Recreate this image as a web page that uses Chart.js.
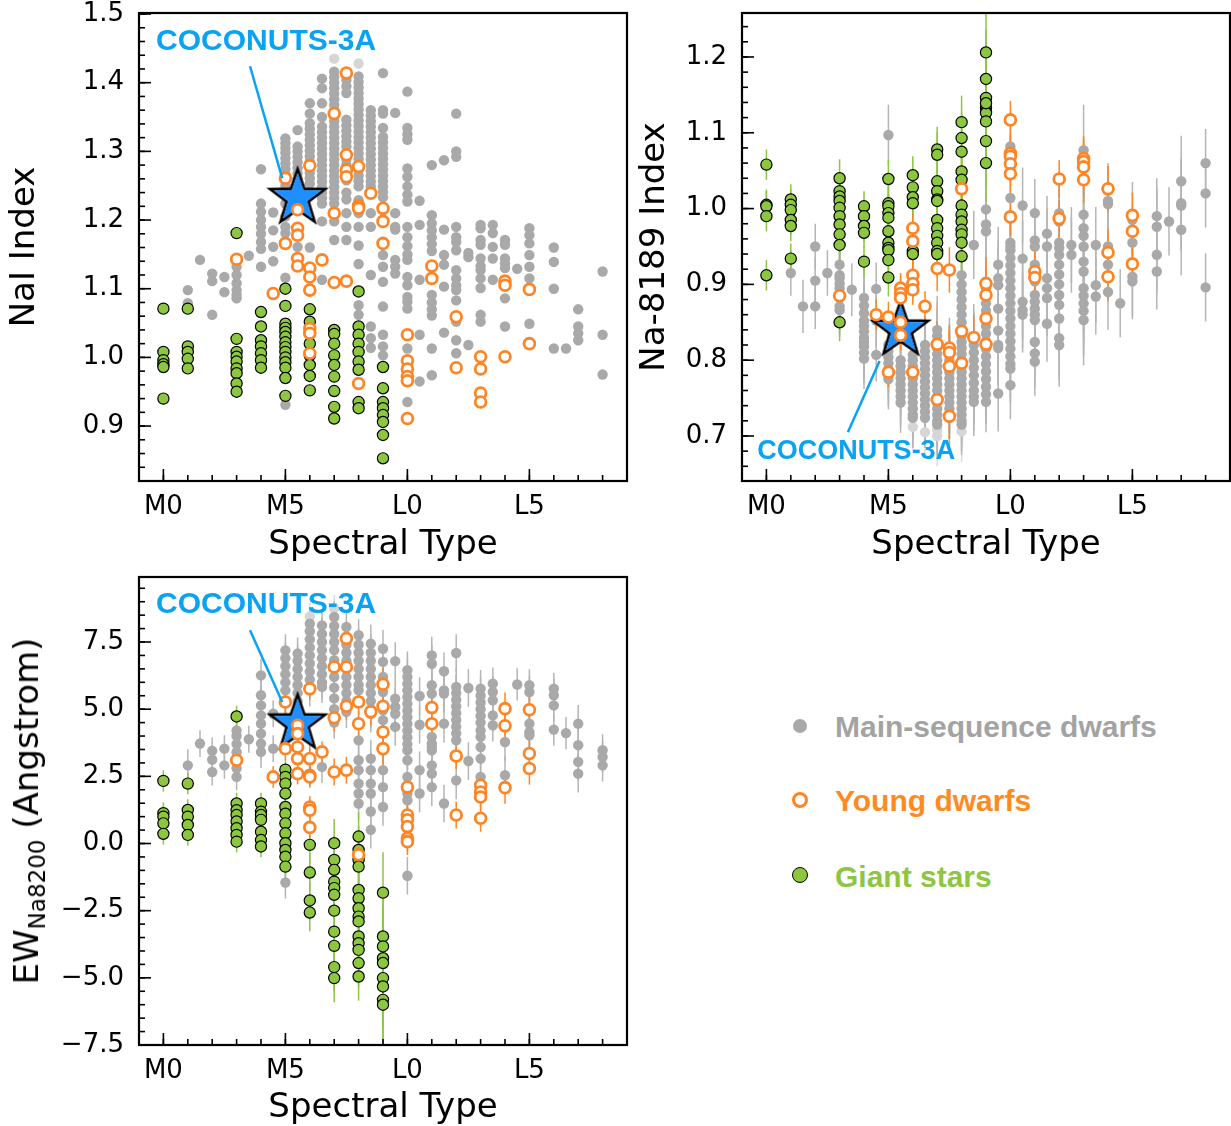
<!DOCTYPE html>
<html>
<head>
<meta charset="utf-8">
<script src="https://cdn.jsdelivr.net/npm/chart.js@4.4.0/dist/chart.umd.min.js"></script>
<style>
  body { margin: 0; background: #fff; }
  #page { position: relative; width: 1231px; height: 1126px; overflow: hidden; font-family: "DejaVu Sans", sans-serif; }
  canvas { position: absolute; }
  .ytitle { position: absolute; transform: translate(-50%, -50%) rotate(-90deg); white-space: nowrap;
            font-size: 34px; line-height: 1; color: #000; }
  .ytitle sub { font-size: 23px; vertical-align: -7px; line-height: 0; }
  .mk { position: absolute; border-radius: 50%; box-sizing: border-box; }
  .lg { position: absolute; left: 835px; font: bold 30px "Liberation Sans", Arial, sans-serif; line-height: 30px; white-space: nowrap; }
</style>
</head>
<body>
<div id="page">
  <canvas id="naiChart" width="630" height="570" style="left:0;top:0"></canvas>
  <canvas id="na8189Chart" width="601" height="570" style="left:630px;top:0"></canvas>
  <canvas id="ewChart" width="630" height="561" style="left:0;top:565px"></canvas>
  <div class="ytitle" style="left:26px;top:811px">EW<sub>Na8200</sub> (Angstrom)</div>

  <div class="mk" style="left:793px;top:719px;width:14px;height:14px;background:#a9a9a9"></div>
  <div class="lg" style="top:712px;color:#a3a3a3">Main-sequence dwarfs</div>
  <div class="mk" style="left:792px;top:792px;width:16px;height:16px;border:3px solid #ff8424;background:#fff"></div>
  <div class="lg" style="top:786px;color:#ff8a1e">Young dwarfs</div>
  <div class="mk" style="left:792px;top:867px;width:16px;height:16px;border:1.5px solid #000;background:#8dc63f"></div>
  <div class="lg" style="top:862px;color:#8dc63f">Giant stars</div>
</div>

<script>
// spectral type axis: 0 = M0, 10 = L0
const sptTicks = [0, 5, 10, 15];
const sptLabels = ['M0', 'M5', 'L0', 'L5'];

// each entry: [spectral type, error, [index values]]
const dwarfNaI = [
  [1, 0, [1.098, 1.079]],
  [1.5, 0, [1.142]],
  [2, 0, [1.122, 1.111, 1.062]],
  [2.5, 0, [1.117, 1.095]],
  [3, 0, [1.132, 1.12, 1.108, 1.098, 1.091, 1.086]],
  [3.5, 0, [1.148]],
  [4, 0, [1.274, 1.224, 1.212, 1.2, 1.19, 1.18, 1.168, 1.158, 1.132]],
  [4.5, 0, [1.211, 1.185, 1.161, 1.14]],
  [5, 0, [1.319, 1.312, 1.305, 1.298, 1.29, 1.282, 1.274, 1.266, 1.258, 1.25, 1.224, 1.205, 1.19, 1.181, 1.116, 0.931]],
  [5.5, 0, [1.331, 1.307, 1.3, 1.292, 1.284, 1.276, 1.268, 1.26, 1.245, 1.232, 1.22, 1.161]],
  [6, 0, [1.37, 1.355, 1.341, 1.333, 1.325, 1.317, 1.309, 1.301, 1.293, 1.285, 1.277, 1.269, 1.261, 1.253, 1.16]],
  [6.5, 0, [1.406, 1.392, 1.37, 1.35, 1.336, 1.328, 1.32, 1.312, 1.304, 1.296, 1.288, 1.28, 1.272, 1.264, 1.256, 1.248, 1.24, 1.232, 1.224, 1.198, 1.113]],
  [7, 0, [1.416, 1.408, 1.4, 1.392, 1.384, 1.376, 1.368, 1.36, 1.352, 1.344, 1.336, 1.328, 1.32, 1.312, 1.304, 1.296, 1.288, 1.28, 1.272, 1.264, 1.256, 1.248, 1.24, 1.232, 1.224, 1.198, 1.171]],
  [7.5, 0, [1.404, 1.395, 1.385, 1.346, 1.338, 1.33, 1.322, 1.314, 1.307, 1.288, 1.28, 1.272, 1.264, 1.258, 1.24, 1.23, 1.21, 1.19, 1.171]],
  [8, 0, [1.409, 1.401, 1.393, 1.385, 1.377, 1.369, 1.361, 1.353, 1.345, 1.337, 1.329, 1.321, 1.313, 1.305, 1.297, 1.289, 1.281, 1.273, 1.265, 1.257, 1.249, 1.229, 1.21, 1.19, 1.163, 1.136, 1.076, 1.062]],
  [8.5, 0, [1.36, 1.352, 1.344, 1.336, 1.328, 1.32, 1.312, 1.304, 1.296, 1.288, 1.28, 1.272, 1.264, 1.256, 1.249, 1.21, 1.19, 1.12, 1.045, 1.028, 1.014]],
  [9, 0, [1.414, 1.36, 1.355, 1.334, 1.321, 1.313, 1.305, 1.297, 1.289, 1.281, 1.273, 1.265, 1.257, 1.249, 1.241, 1.233, 1.149, 1.132, 1.11, 1.074, 1.033, 1.016, 1.003]],
  [9.5, 0, [1.356, 1.21, 1.19, 1.186, 1.142, 1.132, 1.122]],
  [10, 0, [1.387, 1.334, 1.325, 1.317, 1.275, 1.263, 1.249, 1.237, 1.227, 1.19, 1.175, 1.162, 1.15, 1.142, 1.117, 1.105, 1.088, 1.081, 1.071, 1.013, 0.935]],
  [10.5, 0, [1.228, 1.193, 1.113, 1.033, 0.965]],
  [11, 0, [1.28, 1.207, 1.195, 1.185, 1.175, 1.165, 1.155, 1.091, 1.08, 1.07, 1.061, 1.013, 0.974]],
  [11.5, 0, [1.287, 1.186, 1.149, 1.135, 1.103, 1.036]],
  [12, 0, [1.355, 1.3, 1.292, 1.19, 1.175, 1.168, 1.156, 1.127, 1.115, 1.105, 1.098, 1.083, 1.052, 1.025, 1.006]],
  [12.5, 0, [1.152, 1.146, 1.018]],
  [13, 0, [1.193, 1.188, 1.171, 1.164, 1.144, 1.133, 1.127, 1.115, 1.101, 1.062, 1.052]],
  [13.5, 0, [1.193, 1.181, 1.161, 1.144, 1.113]],
  [14, 0, [1.171, 1.164, 1.144, 1.137, 1.13, 1.086, 1.045]],
  [14.5, 0, [1.129]],
  [15, 0, [1.188, 1.178, 1.166, 1.149, 1.132, 1.115, 1.049]],
  [16, 0, [1.16, 1.139, 1.1, 1.013]],
  [16.5, 0, [1.013]],
  [17, 0, [1.07, 1.045, 1.035, 1.025]],
  [18, 0, [1.125, 1.033, 0.975]]
];
const faintNaI = [[7, 0, [1.435]], [8, 0, [1.428]]];
const youngNaI = [
  [3, 0, [1.143]], [4.5, 0, [1.093]], [5, 0, [1.261, 1.166]],
  [5.5, 0, [1.215, 1.188, 1.178, 1.144, 1.133]],
  [6, 0, [1.279, 1.13, 1.117, 1.098, 1.042, 1.035, 1.006]],
  [6.5, 0, [1.142]], [7, 0, [1.355, 1.21, 1.109]],
  [7.5, 0, [1.414, 1.295, 1.273, 1.263, 1.111]],
  [8, 0, [1.278, 1.221, 1.217, 0.962]], [8.5, 0, [1.239]],
  [9, 0, [1.217, 1.198, 1.166]],
  [10, 0, [1.033, 0.995, 0.983, 0.972, 0.966, 0.911]],
  [11, 0, [1.133, 1.115]], [12, 0, [1.059, 0.985]],
  [13, 0, [1.001, 0.983, 0.948, 0.935]], [14, 0, [1.111, 1.105, 1.001]],
  [15, 0, [1.099, 1.02]]
];
const giantNaI = [
  [0, 0, [1.071, 1.008, 0.996, 0.99, 0.986, 0.94]],
  [1, 0, [1.071, 1.016, 1.008, 0.998, 0.984]],
  [3, 0, [1.181, 1.027, 1.008, 1.001, 0.994, 0.984, 0.977, 0.962, 0.95]],
  [4, 0, [1.066, 1.045, 1.025, 1.016, 1.006, 0.996, 0.985]],
  [5, 0, [1.1, 1.075, 1.049, 1.043, 1.037, 1.03, 1.022, 1.015, 1.008, 1.0, 0.993, 0.985, 0.97, 0.944]],
  [6, 0, [1.07, 1.052, 1.035, 1.02, 1.003, 0.989, 0.973, 0.952]],
  [7, 0, [1.04, 1.034, 1.02, 1.003, 0.989, 0.972, 0.951, 0.928, 0.911]],
  [8, 0, [1.096, 1.045, 1.033, 1.02, 1.008, 0.994, 0.982, 0.935, 0.926]],
  [9, 0, [0.986, 0.955, 0.935, 0.926, 0.916, 0.906, 0.887, 0.853]]
];
const coconutsNaI = [5.5, 1.232];

const dwarf8189 = [
  [1, 0.03, [0.915]], [1.5, 0.035, [0.871]], [2, 0.03, [0.95, 0.905, 0.871]], [2.5, 0.03, [0.915]],
  [3, 0.035, [0.926, 0.912, 0.908, 0.901, 0.895, 0.886, 0.882, 0.871, 0.866]],
  [3.5, 0.035, [0.893]],
  [4, 0.04, [0.882, 0.872, 0.862, 0.852, 0.845, 0.838, 0.83, 0.824, 0.818, 0.81, 0.802]],
  [4.5, 0.035, [0.894, 0.852, 0.807]],
  [5, 0.04, [1.097, 0.82, 0.812, 0.804, 0.796, 0.788, 0.78, 0.775]],
  [5.5, 0.04, [0.86, 0.85, 0.8, 0.792, 0.784, 0.776, 0.768, 0.76, 0.752, 0.744]],
  [6, 0.04, [0.807, 0.8, 0.792, 0.784, 0.776, 0.768, 0.76, 0.752, 0.744, 0.736, 0.728, 0.724]],
  [6.5, 0.04, [0.82, 0.812, 0.804, 0.796, 0.788, 0.78, 0.772, 0.764, 0.756, 0.748, 0.74, 0.732, 0.724]],
  [7, 0.045, [0.84, 0.832, 0.824, 0.816, 0.808, 0.8, 0.792, 0.784, 0.776, 0.768, 0.76, 0.752, 0.744, 0.736, 0.728, 0.72, 0.715]],
  [7.5, 0.04, [0.816, 0.808, 0.8, 0.792, 0.784, 0.776, 0.768, 0.76, 0.752, 0.744, 0.736, 0.728, 0.724]],
  [8, 0.04, [0.912, 0.9, 0.89, 0.88, 0.87, 0.86, 0.85, 0.84, 0.832, 0.824, 0.816, 0.808, 0.8, 0.792, 0.784, 0.776, 0.768, 0.76, 0.752, 0.744, 0.736, 0.728, 0.72, 0.715]],
  [8.5, 0.045, [0.952, 0.829, 0.82, 0.81, 0.8, 0.79, 0.78, 0.77, 0.76, 0.752, 0.745]],
  [9, 0.04, [0.999, 0.979, 0.97, 0.904, 0.895, 0.885, 0.875, 0.865, 0.855, 0.845, 0.835, 0.825, 0.815, 0.805, 0.795, 0.785, 0.775, 0.765, 0.755, 0.745]],
  [9.5, 0.05, [0.926, 0.908, 0.899, 0.868, 0.839, 0.82, 0.816, 0.756]],
  [10, 0.045, [1.082, 1.014, 0.955, 0.95, 0.945, 0.935, 0.925, 0.915, 0.905, 0.895, 0.885, 0.875, 0.865, 0.855, 0.845, 0.835, 0.825, 0.815, 0.805, 0.795, 0.789, 0.767]],
  [10.5, 0.05, [1.004, 0.934, 0.877, 0.866, 0.86]],
  [11, 0.045, [0.994, 0.958, 0.95, 0.926, 0.904, 0.886, 0.877, 0.868, 0.86, 0.853, 0.824, 0.809, 0.798]],
  [11.5, 0.05, [0.967, 0.95, 0.908, 0.895, 0.882, 0.848]],
  [12, 0.055, [0.994, 0.983, 0.955, 0.948, 0.939, 0.926, 0.913, 0.9, 0.886, 0.873, 0.855, 0.829, 0.82]],
  [12.5, 0.05, [0.952, 0.939]],
  [13, 0.06, [1.077, 0.992, 0.974, 0.964, 0.95, 0.93, 0.917, 0.895, 0.885, 0.875, 0.865, 0.853]],
  [13.5, 0.05, [0.952, 0.899, 0.884]],
  [14, 0.05, [1.01, 1.006, 0.95, 0.926, 0.89]],
  [14.5, 0.045, [0.875]],
  [15, 0.05, [0.985, 0.955, 0.91, 0.904]],
  [16, 0.05, [0.99, 0.976, 0.939, 0.917]],
  [16.5, 0.045, [0.983]],
  [17, 0.06, [1.036, 1.007, 1.004, 0.972]],
  [18, 0.045, [1.06, 1.02, 0.896]]
];
const faint8189 = [[6, 0.03, [0.712]], [6.5, 0.03, [0.705]], [7, 0.04, [0.708, 0.7]], [8, 0.04, [0.706]]];
const young8189 = [
  [3, 0.02, [0.885]], [4.5, 0.02, [0.86]], [5, 0.02, [0.857, 0.784]],
  [5.5, 0.02, [0.895, 0.888, 0.882, 0.85, 0.833]],
  [6, 0.02, [0.974, 0.957, 0.912, 0.901, 0.893, 0.784]],
  [6.5, 0.02, [0.871]], [7, 0.03, [0.921, 0.821, 0.748]],
  [7.5, 0.03, [0.919, 0.816, 0.81, 0.792, 0.726]],
  [8, 0.03, [1.026, 0.838, 0.796]], [8.5, 0.03, [0.83]],
  [9, 0.035, [0.901, 0.886, 0.855, 0.821]],
  [10, 0.025, [1.117, 1.073, 1.069, 1.059, 1.046, 0.989]],
  [11, 0.03, [0.917, 0.909]], [12, 0.025, [1.039, 0.987]],
  [13, 0.03, [1.066, 1.062, 1.055, 1.038]], [14, 0.03, [1.026, 0.942, 0.91]],
  [15, 0.03, [0.991, 0.97, 0.927]]
];
const giant8189 = [
  [0, 0.02, [1.058, 1.005, 1.003, 0.99, 0.912]],
  [1, 0.02, [1.012, 1.005, 0.998, 0.985, 0.977, 0.934]],
  [3, 0.025, [1.04, 1.023, 1.016, 1.01, 1.001, 0.99, 0.979, 0.966, 0.952, 0.85]],
  [4, 0.02, [1.003, 0.99, 0.977, 0.968, 0.93]],
  [5, 0.025, [1.039, 1.007, 1.003, 0.994, 0.988, 0.97, 0.955, 0.948, 0.945, 0.932, 0.909]],
  [6, 0.025, [1.044, 1.028, 1.015, 1.007, 0.944, 0.94]],
  [7, 0.03, [1.078, 1.071, 1.036, 1.023, 1.012, 1.01, 0.985, 0.974, 0.964, 0.955, 0.944, 0.94]],
  [8, 0.035, [1.114, 1.093, 1.075, 1.049, 1.038, 1.004, 0.992, 0.983, 0.972, 0.966, 0.955, 0.937]],
  [9, 0.03, [1.206, 1.171, 1.146, 1.133, 1.128, 1.126, 1.115, 1.089, 1.06]],
  [9, 0.13, [1.139]]
];
const coconuts8189 = [5.5, 0.84];

const dwarfEW = [
  [1, 0.6, [2.91]], [1.5, 0.5, [3.72]], [2, 0.5, [3.45, 3.12, 2.66]], [2.5, 0.5, [3.53, 2.91]],
  [3, 0.5, [4.21, 4.0, 3.7, 3.4, 3.1, 2.8, 2.48]], [3.5, 0.5, [3.88]],
  [4, 0.6, [6.26, 5.52, 5.14, 4.77, 4.46, 4.09, 3.72, 3.41]],
  [4.5, 0.5, [4.83, 3.53]],
  [5, 0.6, [7.19, 6.9, 6.6, 6.3, 6.0, 5.7, 5.3, 4.58, -1.45]],
  [5.5, 0.6, [7.07, 6.8, 6.5, 6.2, 5.9, 5.6, 5.3, 4.96]],
  [6, 0.6, [8.18, 7.9, 7.6, 7.3, 7.0, 6.7, 6.4, 6.1, 5.7, 3.1]],
  [6.5, 0.6, [8.12, 7.8, 7.5, 7.2, 6.9, 6.6, 6.3, 6.0, 5.83, 2.85]],
  [7, 0.6, [8.43, 8.1, 7.8, 7.5, 7.2, 6.82, 6.2, 5.8, 5.4, 5.0, 4.5]],
  [7.5, 0.6, [8.06, 7.7, 7.4, 7.1, 6.8, 6.5, 6.2, 5.9, 5.6, 5.3, 4.9]],
  [8, 0.6, [7.75, 7.4, 7.1, 6.8, 6.5, 6.2, 5.9, 5.7, 3.84, 3.1, 2.73, 2.23, 1.86, 1.49]],
  [8.5, 0.7, [7.44, 7.1, 6.8, 6.5, 6.2, 5.9, 5.6, 5.3, 5.0, 4.83, 3.16, 2.73, 2.23, 1.86, 1.19, 0.51]],
  [9, 0.7, [7.25, 6.76, 6.2, 5.64, 4.96, 4.59, 4.09, 3.47, 2.73, 2.1, 1.36]],
  [9.5, 0.7, [6.79, 5.39, 5.08, 4.83, 4.34]],
  [10, 0.7, [6.45, 6.2, 5.95, 5.7, 5.45, 5.2, 4.95, 4.7, 4.45, 4.2, 3.95, 3.7, 3.47, 3.1, 2.48, 1.86, 1.61, -1.2]],
  [10.5, 0.7, [5.49, 4.42, 2.73, 1.86]],
  [11, 0.7, [7.0, 6.69, 5.89, 5.58, 3.97, 3.72, 3.59, 3.47, 2.91, 2.6, 2.1]],
  [11.5, 0.7, [6.41, 5.7, 5.58, 4.46, 1.49]],
  [12, 0.7, [7.09, 5.83, 5.6, 5.35, 5.1, 4.85, 4.6, 4.35, 4.1, 3.84, 2.35]],
  [12.5, 0.7, [5.79, 3.07]],
  [13, 0.7, [5.76, 5.5, 5.25, 5.0, 4.75, 4.5, 4.21, 3.97, 3.59, 3.16, 2.48]],
  [13.5, 0.6, [5.95, 5.64, 5.33, 4.77, 4.4]],
  [14, 0.7, [3.78, 2.54]], [14.5, 0.6, [5.92]],
  [15, 0.6, [5.89, 5.64, 4.96, 4.46, 4.15, 4.03]],
  [16, 0.6, [5.76, 5.52, 5.14, 4.24]], [16.5, 0.6, [4.11]],
  [17, 0.7, [4.46, 3.66, 3.04, 2.6]],
  [18, 0.6, [3.47, 3.22, 2.91]]
];
const faintEW = [[6, 0.5, [8.45]], [7, 0.5, [8.75]]];
const youngEW = [
  [3, 0.4, [3.1]], [4.5, 0.4, [2.48]], [5, 0.4, [5.27, 3.53]],
  [5.5, 0.4, [4.4, 4.09, 3.59, 3.16, 2.6]],
  [6, 0.4, [5.76, 3.16, 2.54, 2.48, 1.36, 1.24, 0.6]],
  [6.5, 0.4, [3.41]], [7, 0.5, [6.57, 4.68, 2.66]],
  [7.5, 0.5, [7.63, 6.57, 5.11, 2.73]],
  [8, 0.5, [5.27, 4.46, -0.42]], [8.5, 0.5, [4.9]],
  [9, 0.6, [5.93, 5.11, 4.15, 3.53]],
  [10, 0.5, [2.1, 1.06, 0.88, 0.63, 0.2, 0.07]],
  [11, 0.5, [5.06, 4.46]], [12, 0.5, [3.26, 1.06]],
  [13, 0.5, [2.17, 1.92, 1.73, 0.94]], [14, 0.6, [5.02, 4.38, 2.08]],
  [15, 0.6, [4.98, 3.35, 2.79]]
];
const giantEW = [
  [0, 0.4, [2.33, 1.13, 1.0, 0.75, 0.36]],
  [1, 0.4, [2.23, 1.25, 1.0, 0.69, 0.32]],
  [3, 0.4, [4.73, 1.49, 1.24, 1.06, 0.82, 0.57, 0.32, 0.07]],
  [4, 0.4, [1.49, 1.18, 1.06, 0.88, 0.44, 0.13, -0.11]],
  [5, 0.4, [2.75, 2.48, 2.23, 1.86, 1.36, 1.11, 0.75, 0.38, 0.01, -0.24, -0.49, -0.86]],
  [6, 0.7, [-0.05, -1.08, -2.12, -2.57]],
  [7, 0.9, [0.01, -0.61, -0.98, -1.42, -1.66, -1.91, -2.5, -3.28, -3.81, -4.6, -5.01]],
  [8, 0.9, [0.26, -0.24, -0.61, -0.86, -1.73, -2.04, -2.41, -2.72, -2.9, -3.46, -3.71, -3.96, -4.45, -4.95]],
  [9, 1.5, [-1.83, -3.46, -3.83, -4.27, -4.45, -5.01, -5.32, -5.82, -6.0]]
];
const coconutsEW = [5.5, 4.46];

const GRAY = '#a9a9a9', FAINT = '#d6d6d6', ORANGE = '#ff8424', GREEN = '#8dc63f', BLUE = '#0aa2f2';

Chart.defaults.font.family = '"DejaVu Sans", sans-serif';
Chart.defaults.color = '#000';

function toPoints(groups) {
  const pts = [];
  groups.forEach(([x, e, ys]) => ys.forEach(y => pts.push({ x: x, y: y, e: e })));
  return pts;
}

function steps(lo, hi, step) {
  const out = [];
  for (let v = lo; v <= hi + 1e-9; v += step) out.push(+v.toFixed(4));
  return out;
}

// filled star marker with a black rim
function starMarker(r) {
  const c = document.createElement('canvas');
  const s = Math.ceil(r * 2 + 8);
  c.width = c.height = s;
  const g = c.getContext('2d');
  const path = (R, k) => {
    g.beginPath();
    for (let i = 0; i < 10; i++) {
      const rad = i % 2 ? R * k : R;
      const a = -Math.PI / 2 + i * Math.PI / 5;
      g.lineTo(s / 2 + rad * Math.cos(a), s / 2 + rad * Math.sin(a));
    }
    g.closePath();
  };
  path(r, 0.4);
  g.fillStyle = '#fff';
  g.fill();
  g.lineJoin = 'miter';
  g.lineWidth = 2.6;
  g.strokeStyle = '#000';
  g.stroke();
  path(r - 4, 0.4);
  g.fillStyle = '#1e8fff';
  g.fill();
  return c;
}
const starImg = starMarker(29);

const errorBars = {
  id: 'errorBars',
  beforeDatasetsDraw(chart) {
    const { ctx, chartArea: a, scales: { y } } = chart;
    ctx.save();
    ctx.beginPath();
    ctx.rect(a.left, a.top, a.width, a.height);
    ctx.clip();
    ctx.lineWidth = 1.5;
    for (let i = chart.data.datasets.length - 1; i >= 0; i--) {
      const ds = chart.data.datasets[i];
      if (!ds.errColor) continue;
      ctx.strokeStyle = ds.errColor;
      chart.getDatasetMeta(i).data.forEach((pt, j) => {
        const d = ds.data[j];
        if (!d.e) return;
        ctx.beginPath();
        ctx.moveTo(pt.x, y.getPixelForValue(d.y + d.e));
        ctx.lineTo(pt.x, y.getPixelForValue(d.y - d.e));
        ctx.stroke();
      });
    }
    ctx.restore();
  }
};

// box and inward ticks on left and bottom
const frameTicks = {
  id: 'frameTicks',
  afterDraw(chart, args, o) {
    const { ctx, chartArea: a, scales: { x, y } } = chart;
    ctx.save();
    ctx.strokeStyle = '#000';
    ctx.lineWidth = 1.6;
    const seg = (x1, y1, x2, y2) => { ctx.beginPath(); ctx.moveTo(x1, y1); ctx.lineTo(x2, y2); ctx.stroke(); };
    o.xMinor.forEach(v => { const p = x.getPixelForValue(v); seg(p, a.bottom, p, a.bottom - 6); });
    o.xMajor.forEach(v => { const p = x.getPixelForValue(v); seg(p, a.bottom, p, a.bottom - 12); });
    o.yMinor.forEach(v => { const p = y.getPixelForValue(v); seg(a.left, p, a.left + 6, p); });
    o.yMajor.forEach(v => { const p = y.getPixelForValue(v); seg(a.left, p, a.left + 12, p); });
    ctx.lineWidth = 2.2;
    ctx.strokeRect(a.left, a.top, a.width, a.height);
    ctx.restore();
  }
};

const callout = {
  id: 'callout',
  afterDatasetsDraw(chart, args, o) {
    if (!o.text) return;
    const { ctx, scales: { x, y } } = chart;
    ctx.save();
    ctx.strokeStyle = o.color;
    ctx.lineWidth = 2.5;
    ctx.beginPath();
    ctx.moveTo(x.getPixelForValue(o.from[0]), y.getPixelForValue(o.from[1]));
    ctx.lineTo(x.getPixelForValue(o.to[0]), y.getPixelForValue(o.to[1]));
    ctx.stroke();
    ctx.font = 'bold ' + o.size + 'px "Liberation Sans", Arial, sans-serif';
    ctx.fillStyle = o.color;
    ctx.textBaseline = 'middle';
    ctx.fillText(o.text, x.getPixelForValue(o.at[0]), y.getPixelForValue(o.at[1]));
    ctx.restore();
  }
};

function makePanel(id, p) {
  const datasets = [
    { label: 'Young dwarfs', data: toPoints(p.young), pointRadius: 5.4, borderWidth: 2.8,
      borderColor: ORANGE, backgroundColor: '#fff', errColor: p.young[0][1] ? ORANGE : null },
    { label: 'COCONUTS-3A', data: [{ x: p.star[0], y: p.star[1] }], pointStyle: starImg },
    { label: 'Giant stars', data: toPoints(p.giant), pointRadius: 5.6, borderWidth: 1.2,
      borderColor: '#000', backgroundColor: GREEN, errColor: p.giant[0][1] ? GREEN : null },
    { label: 'Main-sequence dwarfs', data: toPoints(p.dwarf), pointRadius: 5.2, borderWidth: 0,
      backgroundColor: GRAY, errColor: p.dwarf[0][1] ? '#b5b5b5' : null },
    { label: 'faint', data: toPoints(p.faint), pointRadius: 5.2, borderWidth: 0,
      backgroundColor: FAINT, errColor: p.faint[0][1] ? '#dcdcdc' : null }
  ];
  return new Chart(document.getElementById(id), {
    type: 'scatter',
    data: { datasets: datasets },
    options: {
      responsive: false,
      animation: false,
      devicePixelRatio: 1,
      layout: { padding: p.pad, autoPadding: false },
      plugins: {
        legend: { display: false },
        tooltip: { enabled: false },
        callout: p.callout,
        frameTicks: {
          xMajor: sptTicks, xMinor: steps(0, 18, 1),
          yMajor: p.yTicks, yMinor: steps(p.yMinorFrom, p.yMax, p.yMinorStep)
        }
      },
      scales: {
        x: {
          type: 'linear', min: -1, max: 19,
          grid: { display: false, drawTicks: false }, border: { display: false },
          afterBuildTicks: s => { s.ticks = sptTicks.map(v => ({ value: v })); },
          ticks: { callback: (v, i) => sptLabels[i], font: { size: 26 }, padding: 11, maxRotation: 0, autoSkip: false },
          title: { display: true, text: 'Spectral Type', font: { size: 34, lineHeight: 1 }, padding: { top: 0, bottom: p.xTitlePad } },
          afterFit: s => { s.height = p.xAxisH; s.paddingLeft = s.paddingRight = 0; }
        },
        y: {
          type: 'linear', min: p.yMin, max: p.yMax,
          grid: { display: false, drawTicks: false }, border: { display: false },
          afterBuildTicks: s => { s.ticks = p.yTicks.map(v => ({ value: v })); },
          ticks: { callback: v => p.fmt(v), font: { size: 26 }, padding: 15, autoSkip: false },
          title: { display: !!p.yTitle, text: p.yTitle, font: { size: 34, lineHeight: 1 }, padding: { top: 8.5, bottom: 0 } },
          afterFit: s => { s.width = p.yAxisW; s.paddingTop = s.paddingBottom = 0; }
        }
      }
    },
    plugins: [errorBars, frameTicks, callout]
  });
}

const oneDecimal = v => v.toFixed(1).replace('-', '\u2212');

makePanel('naiChart', {
  dwarf: dwarfNaI, faint: faintNaI, young: youngNaI, giant: giantNaI, star: coconutsNaI,
  yMin: 0.82, yMax: 1.5015, yTicks: [0.9, 1.0, 1.1, 1.2, 1.3, 1.4, 1.5], yMinorFrom: 0.82, yMinorStep: 0.02,
  fmt: oneDecimal, yTitle: 'NaI Index',
  pad: { top: 13, right: 3, left: 0, bottom: 0 }, yAxisW: 139, xAxisH: 89, xTitlePad: 8,
  callout: { text: 'COCONUTS-3A', size: 30, color: BLUE, at: [-0.3, 1.46], from: [3.55, 1.424], to: [4.87, 1.261] }
});

makePanel('na8189Chart', {
  dwarf: dwarf8189, faint: faint8189, young: young8189, giant: giant8189, star: coconuts8189,
  yMin: 0.6406, yMax: 1.258, yTicks: [0.7, 0.8, 0.9, 1.0, 1.1, 1.2], yMinorFrom: 0.66, yMinorStep: 0.02,
  fmt: oneDecimal, yTitle: 'Na-8189 Index',
  pad: { top: 13, right: 1, left: 0, bottom: 0 }, yAxisW: 112, xAxisH: 89, xTitlePad: 8,
  callout: { text: 'COCONUTS-3A', size: 27, color: BLUE, at: [-0.38, 0.679], from: [3.34, 0.705], to: [4.64, 0.799] }
});

makePanel('ewChart', {
  dwarf: dwarfEW, faint: faintEW, young: youngEW, giant: giantEW, star: coconutsEW,
  yMin: -7.5, yMax: 9.92, yTicks: [-7.5, -5, -2.5, 0, 2.5, 5, 7.5], yMinorFrom: -7.5, yMinorStep: 0.5,
  fmt: oneDecimal, yTitle: '',
  pad: { top: 12, right: 3, left: 0, bottom: 0 }, yAxisW: 139, xAxisH: 81, xTitlePad: 1,
  callout: { text: 'COCONUTS-3A', size: 30, color: BLUE, at: [-0.3, 8.88], from: [3.55, 7.94], to: [4.87, 5.27] }
});
</script>
</body>
</html>
